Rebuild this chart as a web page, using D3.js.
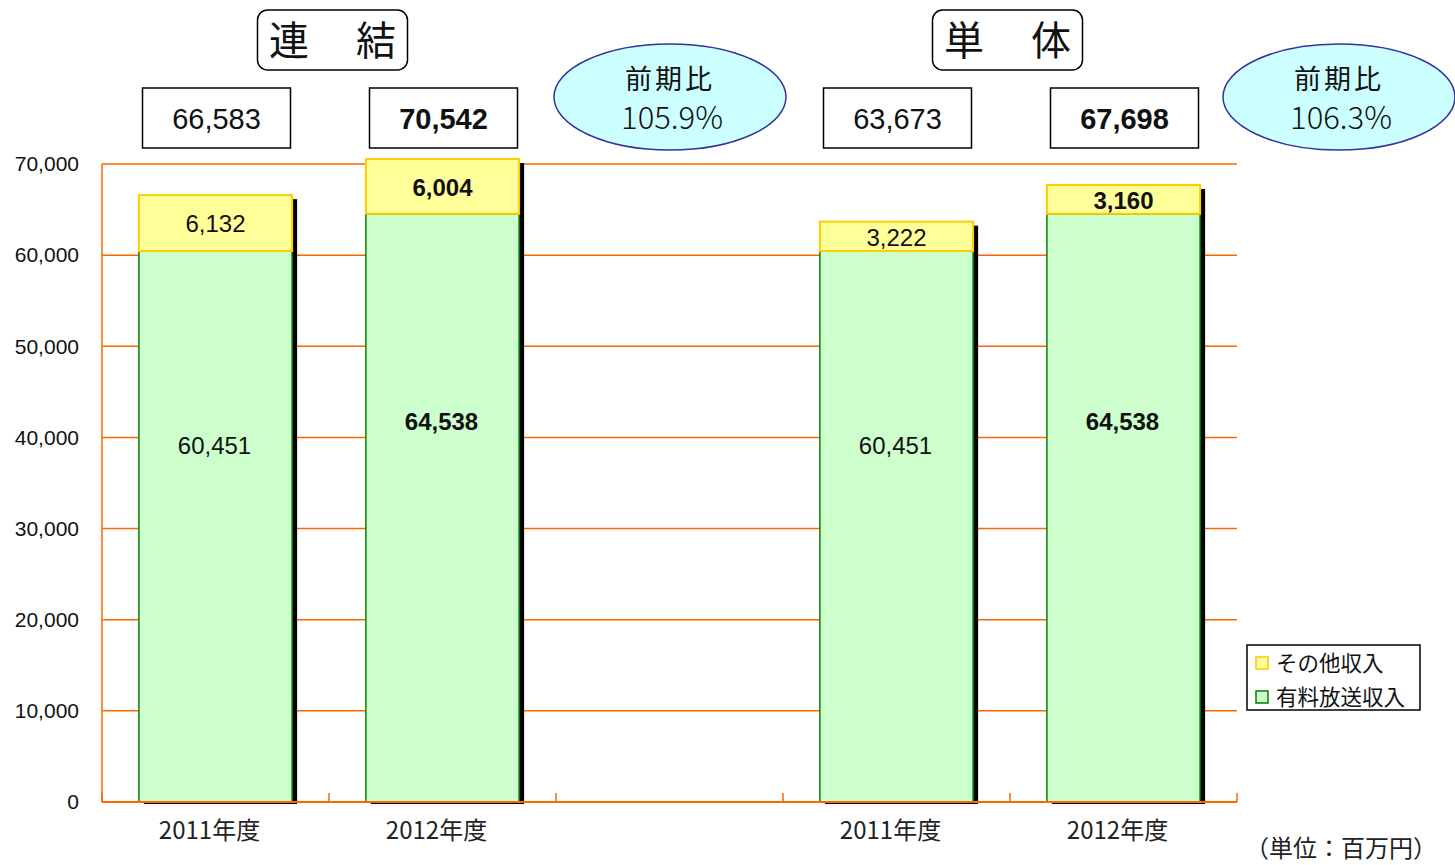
<!DOCTYPE html>
<html><head><meta charset="utf-8">
<script src="https://cdn.jsdelivr.net/npm/d3@7"></script>
<style>body{margin:0;background:#fff}svg{display:block}</style>
</head><body>
<svg id="c" width="1455" height="865"></svg>
<script>
const categories = ["2011年度", "2012年度", "", "2011年度", "2012年度"];
const paidValues = [60451, 64538, null, 60451, 64538];
const otherValues = [6132, 6004, null, 3222, 3160];
const boldFlags = [false, true, false, false, true];
const groupLabels = [["連", "結"], ["単", "体"]];
const yTicks = [0, 10000, 20000, 30000, 40000, 50000, 60000, 70000];
const legendLabels = ["その他収入", "有料放送収入"];
const unitLabel = "（単位：百万円）";
const ratioTitle = "前期比";

const svg = d3.select("#c");
const L = 102, R = 1237, T = 164, B = 802;
const orange = "#ff6600";
const arial = "'Liberation Sans', Arial, sans-serif";
const jp = "'Noto Sans CJK JP', 'Noto Sans', sans-serif";

const x = d3.scaleBand().domain(d3.range(categories.length)).range([L, R]).padding(0);
const y = d3.scaleLinear().domain([0, 70000]).range([B, T]);
const barW = x.bandwidth() * 0.675;
const fmt = d3.format(",");

// grid
svg.append("g").selectAll("line").data(yTicks.filter(d => d > 0)).join("line")
  .attr("x1", L).attr("x2", R).attr("y1", d => y(d)).attr("y2", d => y(d))
  .attr("stroke", orange).attr("stroke-width", 1.5);

// y tick labels
svg.append("g").selectAll("text").data(yTicks).join("text")
  .attr("x", 79).attr("y", d => y(d)).attr("dy", "0.35em").attr("text-anchor", "end")
  .attr("font-family", arial).attr("font-size", 21).attr("fill", "#111")
  .text(d => fmt(d));

// bars
const idx = d3.range(categories.length).filter(i => paidValues[i] != null);
const g = svg.append("g");
idx.forEach(i => {
  const cx = x(i) + x.bandwidth() / 2;
  const x0 = cx - barW / 2;
  const tot = paidValues[i] + otherValues[i];
  g.append("rect").attr("x", x0 + 5).attr("y", y(tot) + 4).attr("width", barW)
    .attr("height", B - y(tot) - 2).attr("fill", "#000");
  g.append("rect").attr("x", x0).attr("y", y(paidValues[i])).attr("width", barW)
    .attr("height", B - y(paidValues[i])).attr("fill", "#ccffcc")
    .attr("stroke", "#008000").attr("stroke-width", 1.5);
  g.append("rect").attr("x", x0).attr("y", y(tot)).attr("width", barW)
    .attr("height", y(paidValues[i]) - y(tot)).attr("fill", "#ffff99")
    .attr("stroke", "#ffcc00").attr("stroke-width", 2);
  const fw = boldFlags[i] ? "bold" : "normal";
  g.append("text").attr("x", cx - 1).attr("y", y(paidValues[i] * 0.645) - 1).attr("dy", "0.35em")
    .attr("text-anchor", "middle").attr("font-family", arial).attr("font-size", 24)
    .attr("font-weight", fw).attr("fill", "#111").text(fmt(paidValues[i]));
  g.append("text").attr("x", cx).attr("y", (y(tot) + y(paidValues[i])) / 2 + 1).attr("dy", "0.35em")
    .attr("text-anchor", "middle").attr("font-family", arial).attr("font-size", 24)
    .attr("font-weight", fw).attr("fill", "#111").text(fmt(otherValues[i]));
  g.append("rect").attr("x", cx - 73).attr("y", 88).attr("width", 148).attr("height", 60)
    .attr("fill", "#fff").attr("stroke", "#000").attr("stroke-width", 1.5);
  g.append("text").attr("x", cx + 1).attr("y", 119).attr("dy", "0.35em").attr("text-anchor", "middle")
    .attr("font-family", arial).attr("font-size", 29).attr("font-weight", fw).attr("fill", "#111")
    .text(fmt(tot));
  g.append("text").attr("x", cx - 6).attr("y", 830).attr("dy", "0.36em").attr("text-anchor", "middle")
    .attr("font-family", jp).attr("font-size", 24).attr("fill", "#222").text(categories[i]);
});

// axes
svg.append("line").attr("x1", L).attr("x2", L).attr("y1", T).attr("y2", B)
  .attr("stroke", orange).attr("stroke-width", 1.5);
svg.append("line").attr("x1", L).attr("x2", R).attr("y1", B).attr("y2", B)
  .attr("stroke", orange).attr("stroke-width", 2);
svg.append("g").selectAll("line").data(d3.range(categories.length + 1)).join("line")
  .attr("x1", i => L + i * x.step()).attr("x2", i => L + i * x.step())
  .attr("y1", B).attr("y2", B - 9).attr("stroke", orange).attr("stroke-width", 1.5);

// group labels and ratio ellipses
const groups = [[0, 1], [3, 4]];
groups.forEach((gr, k) => {
  const gcx = k === 0 ? 332.5 : 1007.5;
  svg.append("rect").attr("x", gcx - 75).attr("y", 10).attr("width", 150).attr("height", 60)
    .attr("rx", 10).attr("fill", "#fff").attr("stroke", "#000").attr("stroke-width", 1.5);
  groupLabels[k].forEach((ch, j) => {
    svg.append("text").attr("x", gcx + (j ? 43.5 : -43.5)).attr("y", 41).attr("dy", "0.36em")
      .attr("text-anchor", "middle").attr("font-family", jp).attr("font-size", 40).attr("fill", "#111").text(ch);
  });
  const a = paidValues[gr[0]] + otherValues[gr[0]];
  const b = paidValues[gr[1]] + otherValues[gr[1]];
  const ex = k === 0 ? 670 : 1339;
  svg.append("ellipse").attr("cx", ex).attr("cy", 97).attr("rx", 116).attr("ry", 53)
    .attr("fill", "#ccffff").attr("stroke", "#333399").attr("stroke-width", 1.5);
  svg.append("text").attr("x", ex).attr("y", 79).attr("dy", "0.36em").attr("text-anchor", "middle")
    .attr("font-family", jp).attr("font-size", 27).attr("letter-spacing", 3).attr("fill", "#111").text(ratioTitle);
  svg.append("text").attr("x", ex + 2).attr("y", 118).attr("dy", "0.36em").attr("text-anchor", "middle")
    .attr("font-family", jp).attr("font-size", 31).attr("font-weight", 300).attr("fill", "#111")
    .text((b / a * 100).toFixed(1) + "%");
});

// legend
const lg = svg.append("g");
lg.append("rect").attr("x", 1247).attr("y", 645).attr("width", 173).attr("height", 65)
  .attr("fill", "#fff").attr("stroke", "#000").attr("stroke-width", 1.5);
const legFill = ["#ffff99", "#ccffcc"], legStroke = ["#ffcc00", "#008000"];
legendLabels.forEach((t, i) => {
  const cy = 663 + i * 34;
  lg.append("rect").attr("x", 1256).attr("y", cy - 6).attr("width", 12).attr("height", 12)
    .attr("fill", legFill[i]).attr("stroke", legStroke[i]).attr("stroke-width", 1.5);
  lg.append("text").attr("x", 1276).attr("y", cy).attr("dy", "0.36em")
    .attr("font-family", jp).attr("font-size", 21.5).attr("fill", "#111").text(t);
});

svg.append("text").attr("x", 1341).attr("y", 848).attr("dy", "0.36em").attr("text-anchor", "middle")
  .attr("font-family", jp).attr("font-size", 24).attr("fill", "#222").text(unitLabel);
</script>
</body></html>
